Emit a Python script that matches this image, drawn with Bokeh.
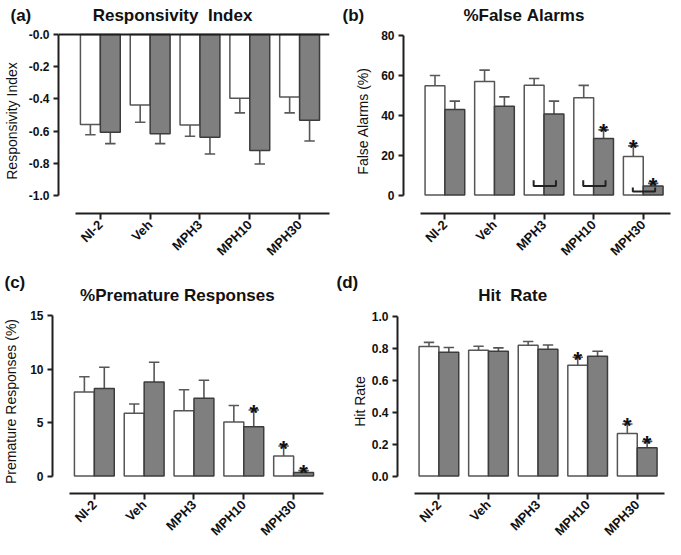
from bokeh.plotting import figure
from bokeh.layouts import column, row
from bokeh.models import ColumnDataSource, FixedTicker, Range1d, Span, Title
from bokeh.core.properties import value
from bokeh.embed import file_html
from bokeh.resources import INLINE

categories = ["NI-2", "Veh", "MPH3", "MPH10", "MPH30"]

# (a) Responsivity Index
ri_white = [-0.558, -0.438, -0.562, -0.396, -0.388]
ri_white_sem = [0.064, 0.106, 0.069, 0.090, 0.098]
ri_gray = [-0.606, -0.616, -0.638, -0.719, -0.532]
ri_gray_sem = [0.071, 0.061, 0.103, 0.084, 0.129]
ri_ticks = [0.0, -0.2, -0.4, -0.6, -0.8, -1.0]
ri_tick_labels = ["-0.0", "-0.2", "-0.4", "-0.6", "-0.8", "-1.0"]

# (b) % False Alarms
fa_white = [54.7, 56.8, 54.9, 48.7, 19.3]
fa_white_sem = [5.1, 5.7, 3.4, 6.2, 5.3]
fa_gray = [42.8, 44.4, 40.5, 28.3, 4.5]
fa_gray_sem = [4.2, 4.7, 6.5, 4.3, 1.3]
fa_ticks = [0, 20, 40, 60, 80]
fa_tick_labels = ["0", "20", "40", "60", "80"]
fa_star_white = [0, 0, 0, 0, 1]
fa_star_gray = [0, 0, 0, 1, 1]
bracket_groups = ["MPH3", "MPH10", "MPH30"]
bracket_low = [4.5, 4.5, 1.8]
bracket_high = [7.4, 7.4, 3.7]

# (c) % Premature Responses
pr_white = [7.86, 5.87, 6.11, 5.05, 1.87]
pr_white_sem = [1.42, 0.87, 1.96, 1.54, 0.94]
pr_gray = [8.19, 8.80, 7.26, 4.60, 0.33]
pr_gray_sem = [1.97, 1.84, 1.69, 1.57, 0.18]
pr_ticks = [0, 5, 10, 15]
pr_tick_labels = ["0", "5", "10", "15"]
pr_star_white = [0, 0, 0, 0, 1]
pr_star_gray = [0, 0, 0, 1, 1]

# (d) Hit Rate
hr_white = [0.810, 0.787, 0.818, 0.694, 0.267]
hr_white_sem = [0.026, 0.025, 0.024, 0.049, 0.059]
hr_gray = [0.775, 0.781, 0.794, 0.749, 0.178]
hr_gray_sem = [0.029, 0.021, 0.026, 0.032, 0.039]
hr_ticks = [0.0, 0.2, 0.4, 0.6, 0.8, 1.0]
hr_tick_labels = ["0.0", "0.2", "0.4", "0.6", "0.8", "1.0"]
hr_star_white = [0, 0, 0, 1, 1]
hr_star_gray = [0, 0, 0, 0, 1]

FONT = "Liberation Sans"
BAR_W = 0.40
CAP_W = 0.21
AXIS_COLOR = "#1e1e1e"
NB = "\u00a0"


def make_panel(title_text, title_offset, title_standoff, title_lh, ylabel,
               white, white_sem, gray, gray_sem,
               ticks, tick_labels, star_white, star_gray,
               geom, ytop_px, ybot_px, ylab_standoff, zero_line=False):
    bl, fw, br, bt, fh, bb, x0, x1 = geom
    top_val, bot_val = max(ticks), min(ticks)
    scale = (ybot_px - ytop_px) / (top_val - bot_val)
    frame_bottom_px = bt + fh
    y_start = bot_val - (frame_bottom_px - ybot_px) / scale
    y_end = top_val + (ytop_px - bt) / scale

    p = figure(frame_width=fw, frame_height=fh, min_border_left=bl,
               min_border_right=br, min_border_top=bt, min_border_bottom=bb,
               x_range=Range1d(x0, x1), y_range=Range1d(y_start, y_end),
               output_backend="svg", toolbar_location=None, title=None)
    p.outline_line_color = None
    p.grid.visible = False
    p.background_fill_color = "white"
    p.border_fill_color = "white"

    p.title = Title(text=title_text, align="left", offset=title_offset,
                    standoff=title_standoff, text_font=FONT, text_font_style="bold",
                    text_font_size="17px", text_color="#111111",
                    text_line_height=title_lh)

    xs = list(range(1, len(categories) + 1))
    sign = [(-1 if v < 0 else 1) for v in white]
    sign_g = [(-1 if v < 0 else 1) for v in gray]
    w_end = [v + s * e for v, s, e in zip(white, sign, white_sem)]
    g_end = [v + s * e for v, s, e in zip(gray, sign_g, gray_sem)]
    xw = [x - BAR_W / 2 for x in xs]
    xg = [x + BAR_W / 2 for x in xs]

    src = ColumnDataSource(dict(xw=xw, xg=xg, w=white, g=gray, we=w_end, ge=g_end,
                                xw0=[x - CAP_W / 2 for x in xw], xw1=[x + CAP_W / 2 for x in xw],
                                xg0=[x - CAP_W / 2 for x in xg], xg1=[x + CAP_W / 2 for x in xg]))

    p.segment(x0="xw", y0="w", x1="xw", y1="we", source=src, line_color="#5a5a5a", line_width=1.6)
    p.segment(x0="xw0", y0="we", x1="xw1", y1="we", source=src, line_color="#5a5a5a", line_width=1.6)
    p.segment(x0="xg", y0="g", x1="xg", y1="ge", source=src, line_color="#555555", line_width=1.6)
    p.segment(x0="xg0", y0="ge", x1="xg1", y1="ge", source=src, line_color="#555555", line_width=1.6)

    p.vbar(x="xw", top="w", bottom=0, width=BAR_W, source=src, fill_color="white",
           line_color="#555555", line_width=1.5)
    p.vbar(x="xg", top="g", bottom=0, width=BAR_W, source=src, fill_color="#7f7f7f",
           line_color="#3c3c3c", line_width=1.5)

    if zero_line:
        p.add_layout(Span(location=0, dimension="width", line_color=AXIS_COLOR, line_width=2))

    sx, sy = [], []
    for x, e, f in zip(xw, w_end, star_white):
        if f:
            sx.append(x); sy.append(e)
    for x, e, f in zip(xg, g_end, star_gray):
        if f:
            sx.append(x); sy.append(e)
    if sx:
        p.text(x=sx, y=sy, text=["*"] * len(sx), text_align="center", text_baseline="alphabetic",
               y_offset=2, text_font=value(FONT), text_font_style="bold",
               text_font_size="22px", text_color="#111111")

    xa = p.xaxis[0]
    xa.ticker = FixedTicker(ticks=xs)
    xa.major_label_overrides = {x: c for x, c in zip(xs, categories)}
    xa.bounds = (0.5, x1)
    xa.axis_line_width = 2
    xa.axis_line_color = AXIS_COLOR
    xa.major_tick_line_width = 2
    xa.major_tick_line_color = AXIS_COLOR
    xa.major_tick_out = 6
    xa.major_tick_in = 0
    xa.minor_tick_line_color = None
    xa.major_label_orientation = 0.785
    xa.major_label_text_font = FONT
    xa.major_label_text_font_style = "bold"
    xa.major_label_text_font_size = "13px"
    xa.major_label_text_color = "#111111"
    xa.major_label_standoff = 3

    ya = p.yaxis[0]
    ya.ticker = FixedTicker(ticks=ticks)
    ya.major_label_overrides = {t: l for t, l in zip(ticks, tick_labels)}
    ya.bounds = (bot_val, top_val)
    ya.axis_line_width = 2
    ya.axis_line_color = AXIS_COLOR
    ya.major_tick_line_width = 2
    ya.major_tick_line_color = AXIS_COLOR
    ya.major_tick_out = 5
    ya.major_tick_in = 0
    ya.minor_tick_line_color = None
    ya.major_label_text_font = FONT
    ya.major_label_text_font_style = "bold"
    ya.major_label_text_font_size = "12px"
    ya.major_label_text_color = "#111111"
    ya.major_label_standoff = 4
    ya.axis_label = ylabel
    ya.axis_label_text_font = FONT
    ya.axis_label_text_font_style = "normal"
    ya.axis_label_text_font_size = "14px"
    ya.axis_label_text_color = "#111111"
    ya.axis_label_standoff = ylab_standoff
    return p


# geometry: (border_left, frame_w, border_right, border_top, frame_h, border_bottom, x_start, x_end)
geom_tl = (51, 271, 10, 28, 185, 49, 0.16, 5.60)
geom_tr = (64, 267, 1, 28, 185, 49, 0.165, 5.55)
geom_bl = (51, 271, 10, 42, 184, 51, 0.16, 5.60)
geom_br = (64, 267, 1, 42, 184, 51, 0.165, 5.55)

title_a = "(a)" + NB * 13 + "Responsivity" + NB * 2 + "Index"
title_b = "(b)" + NB * 21 + "%False" + NB + "Alarms"
title_c = "(c)\n" + NB * 16 + "%Premature" + NB + "Responses"
title_d = "(d)\n" + NB * 30 + "Hit" + NB * 2 + "Rate"

pa = make_panel(title_a, -48, 7, 1.2, "Responsivity Index",
                ri_white, ri_white_sem, ri_gray, ri_gray_sem, ri_ticks, ri_tick_labels,
                [0] * 5, [0] * 5, geom_tl, 34.0, 195.2, 6, zero_line=True)

pb = make_panel(title_b, -61, 7, 1.2, "False Alarms (%)",
                fa_white, fa_white_sem, fa_gray, fa_gray_sem, fa_ticks, fa_tick_labels,
                fa_star_white, fa_star_gray, geom_tr, 34.7, 194.5, 7)

bx, by = [], []
for grp, lo, hi in zip(bracket_groups, bracket_low, bracket_high):
    c = categories.index(grp) + 1
    bx.append([c - 0.21, c - 0.21, c + 0.24, c + 0.24])
    by.append([hi, lo, lo, hi])
pb.multi_line(xs=bx, ys=by, line_color="#222222", line_width=2)

pc = make_panel(title_c, -48, 9, 0.7, "Premature Responses (%)",
                pr_white, pr_white_sem, pr_gray, pr_gray_sem, pr_ticks, pr_tick_labels,
                pr_star_white, pr_star_gray, geom_bl, 48.0, 208.6, 8)

pd_ = make_panel(title_d, -61, 9, 0.7, "Hit Rate",
                 hr_white, hr_white_sem, hr_gray, hr_gray_sem, hr_ticks, hr_tick_labels,
                 hr_star_white, hr_star_gray, geom_br, 48.7, 208.6, 1)

layout = column(row(pa, pb), row(pc, pd_))

with open("out.html", "w") as f:
    f.write(file_html(layout, INLINE))
